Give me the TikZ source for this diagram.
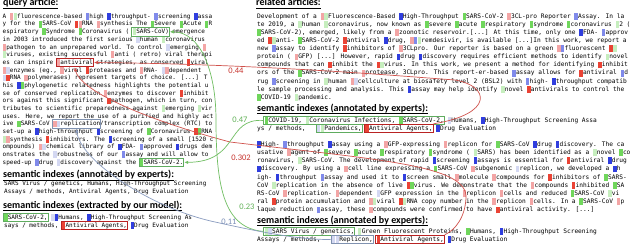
\documentclass[tikz,border=0pt]{standalone}
\usepackage{fontspec}
\usetikzlibrary{arrows.meta}
\newfontfamily\monofont{DejaVu Sans Mono}
\newfontfamily\headfont{Carlito}
\definecolor{cR}{RGB}{234,67,53}
\definecolor{cr}{RGB}{243,165,165}
\definecolor{cG}{RGB}{112,214,92}
\definecolor{cg}{RGB}{198,238,190}
\definecolor{cB}{RGB}{48,62,222}
\definecolor{cb}{RGB}{128,138,234}
\definecolor{cl}{RGB}{212,216,242}
\definecolor{frgreen}{RGB}{95,172,95}
\definecolor{frred}{RGB}{185,35,35}
\definecolor{frblue}{RGB}{128,146,176}
\definecolor{linered}{RGB}{208,82,76}
\definecolor{linegreen}{RGB}{112,190,98}
\definecolor{lineblue}{RGB}{138,156,192}
\definecolor{labred}{RGB}{200,52,46}
\definecolor{labgreen}{RGB}{98,178,88}
\definecolor{labblue}{RGB}{122,142,182}
\newcommand\hk[1]{\rlap{\textcolor{#1}{\rule[-1.6pt]{0.56em}{6.8pt}}}\phantom{0}}
\newcommand\Rr{\hk{cR}}
\newcommand\Rp{\hk{cr}}
\newcommand\Gg{\hk{cG}}
\newcommand\Gl{\hk{cg}}
\newcommand\Bb{\hk{cB}}
\newcommand\Bm{\hk{cb}}
\newcommand\Bl{\hk{cl}}
\newcommand\cwL{3.6123}
\newcommand\cwR{3.7327}
\newcommand\ulx[1]{\sbox0{#1}\rlap{\rule[-2.4pt]{\wd0}{0.75pt}}\usebox0}
% frame: name, style, x0, cw, first cell, last cell, baseline
\newcommand\frm[7]{\node[#2, minimum width={(#6-#5)*#4+1.4}, minimum height=8.5, inner sep=0pt] (#1) at ({#3+(#5+#6)/2*#4},{#7-1.85}) {};}
\begin{document}
\begin{tikzpicture}[x=1pt,y=-1pt,
  lineL/.style={anchor=base west, inner sep=0pt, font=\monofont\fontsize{6}{7}\selectfont},
  lineR/.style={anchor=base west, inner sep=0pt, font=\monofont\fontsize{6.2}{7}\selectfont},
  head/.style={anchor=base west, inner sep=0pt, font=\headfont\bfseries\fontsize{10}{11}\selectfont},
  frG/.style={draw=frgreen, line width=0.8pt},
  frR/.style={draw=frred, line width=0.8pt},
  frB/.style={draw=frblue, line width=0.8pt},
  conR/.style={draw=linered, line width=0.7pt},
  conG/.style={draw=linegreen, line width=0.7pt},
  conB/.style={draw=lineblue, line width=0.7pt},
  lab/.style={inner sep=0pt, font=\headfont\fontsize{8.5}{10}\selectfont}]
\useasboundingbox (0,0) rectangle (640,245);
\fill[white] (0,0) rectangle (640,245);

% ---------- query article ----------
\node[head] (hq) at (3,6) {\ulx{query article:}};
\node[lineL] (q1) at (2.5,18.30) {A \Rp\Gl fluorescence-based \Bm high \Bb throughput- \Bm screening \Bb assa};
\node[lineL] (q2) at (2.5,25.98) {y for the \Gg SARS-CoV \Rr\Rp RNA \Rp synthesis The \Gg Severe \Gg Acute \Gg R};
\node[lineL] (q3) at (2.5,33.66) {espiratory \Gg Syndrome \Gg Coronavirus ( \Gl SARS-CoV) emergence};
\node[lineL] (q4) at (2.5,41.34) {in 2003 introduced the first serious \Bl human \Gl coronavirus};
\node[lineL] (q5) at (2.5,49.02) {\Rp pathogen to an unprepared world. To control \Bl emerging \Rp};
\node[lineL] (q6) at (2.5,56.70) {\Gl viruses, existing successful \Rp anti ( retro) viral therapi};
\node[lineL] (q7) at (2.5,64.38) {es can inspire \Rp antiviral strategies, as conserved \Rr viral};
\node[lineL] (q8) at (2.5,72.06) {\Rp\Bl enzymes (eg., \Rp viral \Rr proteases and \Rp RNA- \Bl\Rp dependent};
\node[lineL] (q9) at (2.5,79.74) {\Bl\Rr RNA \Rp polymerases) represent targets of choice. [...] T};
\node[lineL] (q10) at (2.5,87.42) {his \Bb\Gg phylogenetic relatedness highlights the potential u};
\node[lineL] (q11) at (2.5,95.10) {se of conserved replication \Rp enzymes to discover \Rr inhibit};
\node[lineL] (q12) at (2.5,102.78) {ors against this significant \Rr pathogen, which in turn, con};
\node[lineL] (q13) at (2.5,110.46) {tributes to scientific preparedness against \Gl emerging \Gl vir};
\node[lineL] (q14) at (2.5,118.14) {uses. Here, we report the use of a purified and highly act};
\node[lineL] (q15) at (2.5,125.82) {ive \Gg SARS-CoV \Rp\Bl replication/transcription complex (RTC) to};
\node[lineL] (q16) at (2.5,133.50) {set-up a \Bb high-throughput \Bb screening of \Gg Coronavirus \Rr\Gg RNA};
\node[lineL] (q17) at (2.5,141.18) {\Gl\Rp synthesis \Rr inhibitors. The \Bb screening of a small [1520 c};
\node[lineL] (q18) at (2.5,148.86) {ompounds) \Rp\Bl chemical library of \Bb FDA- \Bm approved \Bb drugs dem};
\node[lineL] (q19) at (2.5,156.54) {onstrates the \Bl robustness of our \Bm assay and will allow to};
\node[lineL] (q20) at (2.5,164.22) {speed-up \Bm drug \Bl discovery against the \Gg SARS-CoV-2.};

\node[head] (hqe) at (3,178) {\ulx{semantic indexes (annotated by experts):}};
\node[lineL] (qe1) at (4,185.3) {SARS Virus / genetics, Humans, High-Throughput Screening};
\node[lineL] (qe2) at (4,193.3) {Assays / methods, Antiviral Agents, Drug Evaluation};
\node[head] (hqm) at (3,208.5) {\ulx{semantic indexes (extracted by our model):}};
\node[lineL] (qm1) at (4,219.3) {\Gg SARS-CoV-2, \Bl\Bb Humans, \Bb High-Throughput Screening As};
\node[lineL] (qm2) at (4,227.3) {says / methods, \Rr Antiviral Agents, \Bb Drug Evaluation};

% ---------- related articles ----------
\node[head] (hr) at (256,6) {\ulx{related articles:}};
\node[lineR] (a1) at (257,18.3) {Development of a \Rp\Gl Fluorescence-Based \Bb High-Throughput \Gg SARS-CoV-2 \Rp 3CL-pro Reporter \Bm Assay. In la};
\node[lineR] (a2) at (257,26.4) {te 2019, a \Gl human \Gl coronavirus, now known as \Gg severe \Gg acute \Gg respiratory \Gg syndrome \Gg coronavirus \Gl 2 (};
\node[lineR] (a3) at (257,34.5) {\Gg SARS-CoV-2), emerged, likely from a \Rp zoonotic reservoir.[...] At this time, only one \Bb FDA- \Bm approv};
\node[lineR] (a4) at (257,42.6) {ed \Rr\Gl anti- \Gg SARS-CoV-2 \Rr antiviral \Bb drug, \Rp\Bm\Gl remdesivir, is available [...]In this work, we report a};
\node[lineR] (a5) at (257,50.7) {new \Bm assay to identify \Rr inhibitors of \Rp 3CLpro. Our reporter is based on a green \Rp\Bm fluorescent \Rr\Gl};
\node[lineR] (a6) at (257,58.8) {protein ( \Rp GFP) [...] However, rapid \Bb drug \Bb discovery requires efficient methods to identify \Gl novel};
\node[lineR] (a7) at (257,66.9) {compounds that can \Rr inhibit the \Rr\Gl virus. In this work, we present a method for identifying \Rr inhibit};
\node[lineR] (a8) at (257,75.0) {ors of the \Gg SARS-CoV-2 main \Rp protease, 3CLpro. This report-er-based \Bm assay allows for \Rr antiviral \Bm d};
\node[lineR] (a9) at (257,83.1) {rug \Bm screening in \Gl human \Rp\Bl cellculture at biosafety level 2 (BSL2) with \Bm high- \Bb throughput compatib};
\node[lineR] (a10) at (257,91.2) {le sample processing and analysis. This \Bb assay may help identify \Gl novel \Rr antivirals to control the};
\node[lineR] (a11) at (257,99.3) {\Gg COVID-19 \Gl pandemic.};
\node[head] (hr1) at (257,111.5) {\ulx{semantic indexes (annotated by experts):}};
\node[lineR] (ai1) at (264.5,122.3) {\Gg COVID-19, \Gl Coronavirus Infections, \Gg SARS-CoV-2, \Bl Humans, \Bb High-Throughput Screening Assa};
\node[lineR] (ai2) at (257,130.3) {ys / methods,~~ \Bl\Gl Pandemics, \Rr Antiviral Agents, \Bb Drug Evaluation};

\node[lineR] (b1) at (257,146.3) {\Bb High- \Bm throughput \Bb assay using a \Rp GFP-expressing \Rp replicon for \Gg SARS-CoV \Bb drug \Bb discovery. The ca};
\node[lineR] (b2) at (257,154.5) {usative \Rp agent of \Gg severe \Gg acute \Gg respiratory \Gg syndrome ( \Gl SARS) has been identified as a \Gl novel \Gg co};
\node[lineR] (b3) at (257,162.7) {ronavirus, \Gl SARS-CoV. The development of rapid \Bb screening \Bb assays is essential for \Rr antiviral \Bb drug};
\node[lineR] (b4) at (257,170.9) {\Bb discovery. By using a \Rp cell line expressing a \Gg SARS-CoV \Rp subgenomic \Bl replicon, we developed a \Bb h};
\node[lineR] (b5) at (257,179.1) {igh- \Bb throughput \Bm assay and used it to \Bb screen small \Rp molecule \Rp compounds for \Rr inhibitors of \Gg SARS-};
\node[lineR] (b6) at (257,187.3) {CoV \Gl replication in the absence of live \Rr\Gg virus. We demonstrate that the \Rp compounds \Rr inhibited \Gg SA};
\node[lineR] (b7) at (257,195.5) {RS-CoV \Rp replication- \Rp dependent \Bl GFP expression in the \Rp replicon \Rp cells and reduced \Gg SARS-CoV \Gl vi};
\node[lineR] (b8) at (257,203.7) {ral \Rr protein accumulation and \Rp\Gl viral \Rr\Gl RNA copy number in the \Rp replicon \Rp cells. In a \Gg SARS-CoV \Rp p};
\node[lineR] (b9) at (257,211.9) {laque reduction \Bm assay, these \Rp compounds were confirmed to have \Rr antiviral activity. [...]};
\node[head] (hr2) at (257,223.5) {\ulx{semantic indexes (annotated by experts):}};
\node[lineR] (bi1) at (264.5,233.3) {\Gl\Bl SARS Virus / genetics, \Gl Green Fluorescent Proteins, \Gg Humans, \Bb High-Throughput Screening};
\node[lineR] (bi2) at (257,241.3) {Assays / methods,~~ \Bl\Bl Replicon, \Rr Antiviral Agents, \Bb Drug Evaluation};

% ---------- frames ----------
\frm{qSars}{frG}{2.5}{\cwL}{36}{46}{33.66}
\frm{qAnti}{frR}{2.5}{\cwL}{15}{25}{64.38}
\frm{qRepl}{frB}{2.5}{\cwL}{14}{27}{125.82}
\frm{qSars2}{frG}{2.5}{\cwL}{38}{50}{164.22}
\frm{eSars}{frG}{4}{\cwL}{0}{12}{219.3}
\frm{eAnti}{frR}{4}{\cwL}{16}{34}{227.3}
\frm{r1Covid}{frG}{264.5}{\cwR}{0}{48}{122.3}
\frm{r1Pand}{frG}{257}{\cwR}{16}{28}{130.3}
\frm{r1Anti}{frR}{257}{\cwR}{29}{47}{130.3}
\frm{r2Sars}{frG}{264.5}{\cwR}{0}{24}{233.3}
\frm{r2Repl}{frB}{257}{\cwR}{20}{31}{241.3}
\frm{r2Anti}{frR}{257}{\cwR}{32}{50}{241.3}

% ---------- connectors ----------
\draw[conR, {Latex[length=4pt,width=3.4pt]}-] (qAnti.east) .. controls (260,64) and (400,76) .. (455,80) .. controls (490,86) and (494,114) .. (r1Anti.north east);
\draw[conR, {Latex[length=4pt,width=3.4pt]}-] (qAnti.south) .. controls (80,90) and (140,118) .. (230,142) .. controls (380,160) and (468,165) .. (466,198) .. controls (465,218) and (455,230) .. (r2Anti.north east);
\draw[conG, -{Latex[length=4pt,width=3.4pt]}] (r1Covid.west) .. controls (225,118) and (240,162) .. (qSars2.east);
\draw[conG, {Latex[length=4pt,width=3.4pt]}-] (qSars.east) .. controls (200,32) and (216,70) .. (216,120) .. controls (216,190) and (225,228) .. (r2Sars.west);
\draw[conB, {Latex[length=4pt,width=3.4pt]}-] (qRepl.south) .. controls (80,160) and (150,208) .. (215,222) .. controls (260,232) and (300,240) .. (r2Repl.west);

% ---------- scores ----------
\node[lab, text=labred] (s044) at (236,71) {0.44};
\node[lab, text=labgreen] (s047) at (240,120) {0.47};
\node[lab, text=labred] (s0302) at (241,157.5) {0.302};
\node[lab, text=labgreen] (s023) at (247,207) {0.23};
\node[lab, text=labblue] (s011) at (229,221.5) {0.11};
\end{tikzpicture}
\end{document}
